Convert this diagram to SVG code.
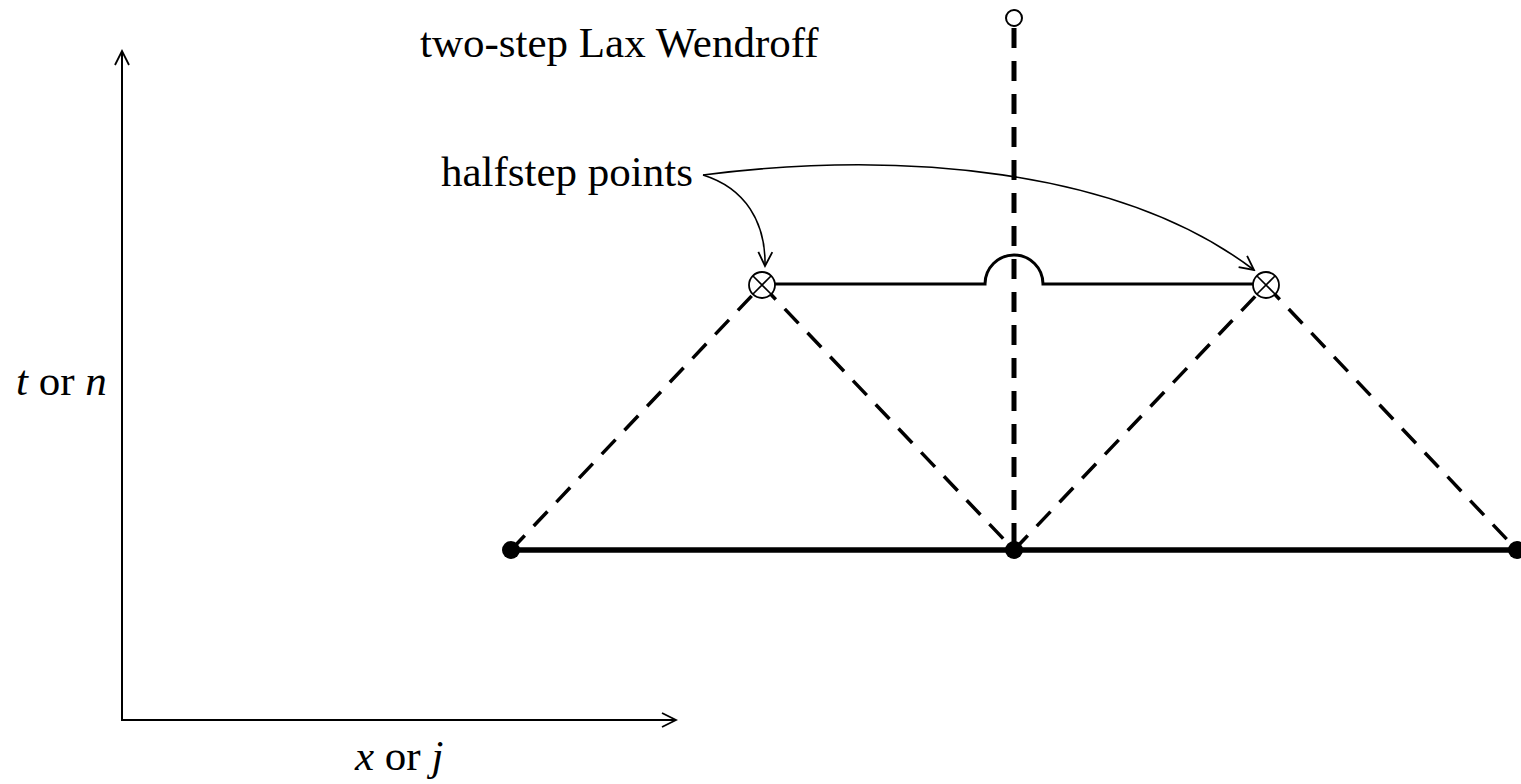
<svg xmlns="http://www.w3.org/2000/svg" width="1521" height="784" viewBox="0 0 1521 784">
<defs>
<style>
text{font-family:"Liberation Serif","Times New Roman",serif;font-size:43px;fill:#000}
.it{font-style:italic}
.axis{stroke:#000;stroke-width:2;fill:none}
.thin{stroke:#000;stroke-width:1.6;fill:none}
.dash{stroke:#000;stroke-width:3.5;stroke-dasharray:20 13;fill:none}
.vdash{stroke:#000;stroke-width:5;stroke-dasharray:20 13;fill:none}
.solid{stroke:#000;stroke-width:3;fill:none}
.base{stroke:#000;stroke-width:5.5;fill:none}
.dot{fill:#000}
.hs{fill:#fff;stroke:#000;stroke-width:1.8}
</style>
<marker id="open" viewBox="0 0 20 20" refX="18" refY="10" markerWidth="20" markerHeight="20" markerUnits="userSpaceOnUse" orient="auto">
<path d="M4,3 L18,10 L4,17" fill="none" stroke="#000" stroke-width="1.8"/>
</marker>
</defs>
<rect width="1521" height="784" fill="#fff"/>
<g id="axes">
<line class="axis" x1="122" y1="721" x2="122" y2="51" marker-end="url(#open)"/>
<line class="axis" x1="121" y1="720" x2="676" y2="720" marker-end="url(#open)"/>
<text x="16" y="395"><tspan class="it">t</tspan> or <tspan class="it">n</tspan></text>
<text x="355" y="770"><tspan class="it">x</tspan> or <tspan class="it">j</tspan></text>
</g>
<g id="title"><text x="420" y="57">two-step Lax Wendroff</text></g>
<g id="connectors">
<line class="dash" x1="511" y1="550" x2="762" y2="285"/>
<line class="dash" x1="762" y1="285" x2="1014" y2="550"/>
<line class="dash" x1="1014" y1="550" x2="1266" y2="285"/>
<line class="dash" x1="1266" y1="285" x2="1517" y2="550"/>
<line class="base" x1="511" y1="550" x2="1517" y2="550"/>
<line class="vdash" x1="1014" y1="28" x2="1014" y2="550"/>
<path class="solid" d="M775,284 L985,284 A29,29 0 0 1 1043,284 L1253,284"/>
<path class="thin" d="M703,175 C745,188 766,222 765,266" marker-end="url(#open)"/>
<path class="thin" d="M703,175 C900,150 1120,168 1254,270" marker-end="url(#open)"/>
</g>
<g id="halfstep-label"><text x="441" y="186">halfstep points</text></g>
<g id="node-top"><circle cx="1014" cy="18" r="8" fill="#fff" stroke="#000" stroke-width="2"/></g>
<g id="node-left-half">
<circle class="hs" cx="762" cy="285" r="13"/>
<path class="thin" d="M753,276 L771,294 M771,276 L753,294"/>
</g>
<g id="node-right-half">
<circle class="hs" cx="1266" cy="285" r="13"/>
<path class="thin" d="M1257,276 L1275,294 M1275,276 L1257,294"/>
</g>
<g id="node-left"><circle class="dot" cx="511" cy="550" r="9"/></g>
<g id="node-mid"><circle class="dot" cx="1014" cy="550" r="9"/></g>
<g id="node-right"><circle class="dot" cx="1517" cy="550" r="9"/></g>
</svg>
